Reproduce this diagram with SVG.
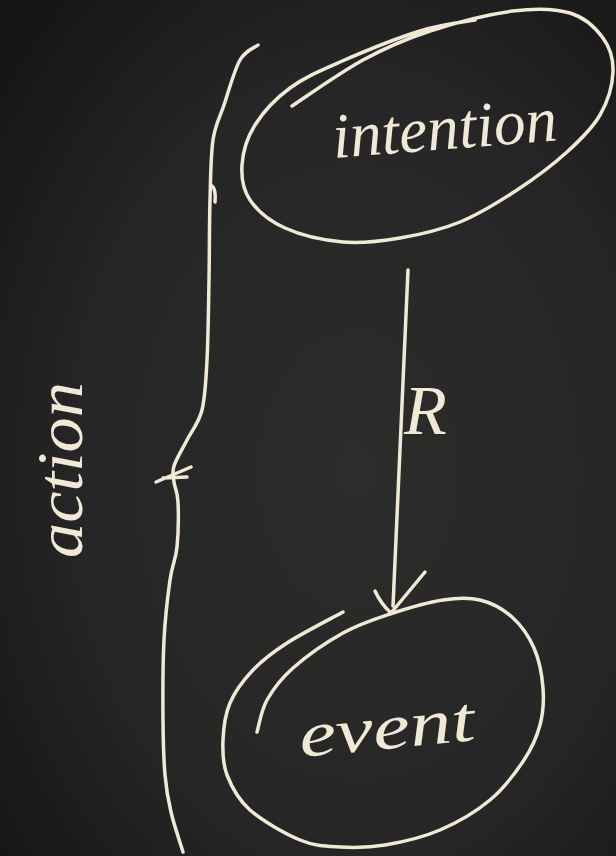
<svg xmlns="http://www.w3.org/2000/svg" width="616" height="856" viewBox="0 0 616 856">
<defs>
<radialGradient id="bg" cx="0.58" cy="0.55" r="0.75">
<stop offset="0" stop-color="#2c2c2b"/>
<stop offset="0.6" stop-color="#262626"/>
<stop offset="1" stop-color="#151515"/>
</radialGradient>
<style>
.chalk{fill:none;stroke:#efe9d6;stroke-width:3.5;stroke-linecap:round;stroke-linejoin:round}
.hand{fill:#efe9d6;font-family:"Liberation Serif","DejaVu Serif",serif;font-style:italic}
</style>
</defs>
<rect x="0" y="0" width="616" height="856" fill="url(#bg)"/>
<g id="node-intention">
<path class="chalk" d="M292,106 C303.8,98.3 340,72.5 363,60 C386,47.5 405,39.2 430,31 C455,22.8 489.7,14 513,11 C536.3,8 555,8.5 570,13 C585,17.5 595.8,28.2 603,38 C610.2,47.8 613.5,59.2 613,72 C612.5,84.8 607.7,101.7 600,115 C592.3,128.3 580.8,139.5 567,152 C553.2,164.5 534.8,178.3 517,190 C499.2,201.7 479.5,214 460,222 C440.5,230 419.5,234.7 400,238 C380.5,241.3 362.2,243.7 343,242 C323.8,240.3 300.5,235 285,228 C269.5,221 257.2,210.5 250,200 C242.8,189.5 241.2,177.5 242,165 C242.8,152.5 247,137.8 255,125 C263,112.2 275.8,98.5 290,88 C304.2,77.5 318.3,71.5 340,62 C361.7,52.5 397.5,38 420,31 C442.5,24 465.8,21.8 475,20"/>
<text class="hand" font-size="64" textLength="225" lengthAdjust="spacingAndGlyphs" transform="translate(334,158) rotate(-4.5)">intention</text>
</g>
<g id="node-event">
<path class="chalk" d="M257,732 C258.7,726.7 261,710.7 267,700 C273,689.3 280.3,679.2 293,668 C305.7,656.8 326.8,642 343,633 C359.2,624 373.3,619.5 390,614 C406.7,608.5 428,602.3 443,600 C458,597.7 468.5,597.2 480,600 C491.5,602.8 503,609 512,617 C521,625 528.8,636.2 534,648 C539.2,659.8 542,675.2 543,688 C544,700.8 543.2,713 540,725 C536.8,737 532.3,747.5 524,760 C515.7,772.5 504,788.3 490,800 C476,811.7 457.5,822.5 440,830 C422.5,837.5 401.7,842.2 385,845 C368.3,847.8 354.2,847.8 340,847 C325.8,846.2 315,846.2 300,840 C285,833.8 262.2,820.8 250,810 C237.8,799.2 231.5,786.7 227,775 C222.5,763.3 222.5,752 223,740 C223.5,728 225,714.7 230,703 C235,691.3 243.5,680 253,670 C262.5,660 272,652.7 287,643 C302,633.3 333.7,617.2 343,612"/>
<text class="hand" font-size="64" textLength="176" lengthAdjust="spacingAndGlyphs" transform="translate(301,757) rotate(-5.5)">event</text>
</g>
<g id="connectors">
<g id="edge-R">
<path class="chalk" d="M408,270 L393,606"/>
<path class="chalk" d="M375,591 Q381,604 391,613 L425,572"/>
<text class="hand" font-size="70" x="404" y="434">R</text>
</g>
<g id="edge-action">
<path class="chalk" d="M258,45 C255,47.5 245.7,50 240,60 C234.3,70 228.5,91.7 224,105 C219.5,118.3 215.3,124.2 213,140 C210.7,155.8 210.7,176.7 210,200 C209.3,223.3 209.5,253.3 209,280 C208.5,306.7 208.2,338.3 207,360 C205.8,381.7 205.3,396.7 202,410 C198.7,423.3 191.7,430.7 187,440 C182.3,449.3 176.2,459 174,466 C171.8,473 173.3,476 174,482 C174.7,488 177.5,491.2 178,502 C178.5,512.8 178.3,534 177,547 C175.7,560 172.2,564.5 170,580 C167.8,595.5 165.2,616.7 164,640 C162.8,663.3 162.8,697.5 163,720 C163.2,742.5 163.7,759.7 165,775 C166.3,790.3 168,799.2 171,812 C174,825 181,845.3 183,852"/>
<path class="chalk" d="M212,186 Q216,189 215,202"/>
<path class="chalk" d="M156,482 L191,467 M163,478 L187,477"/>
<text class="hand" font-size="66" textLength="176" lengthAdjust="spacingAndGlyphs" transform="translate(82,558) rotate(-90)">action</text>
</g>
</g>
</svg>
